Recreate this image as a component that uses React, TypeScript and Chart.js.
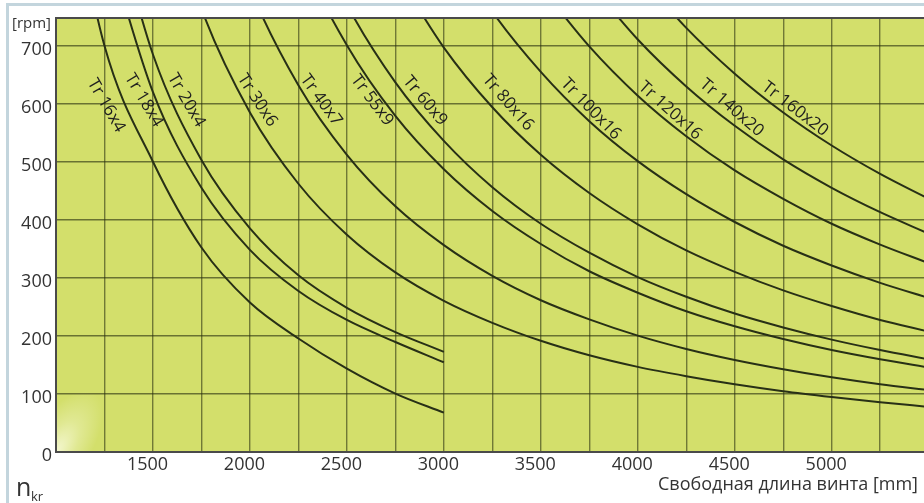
import React, { useEffect, useRef } from "react";
import { Chart, registerables } from "chart.js";

Chart.register(...registerables);

// Free screw length [mm] (x positions of the read values)
const lengths = [1000, 1250, 1500, 1750, 2000, 2250, 2500, 2750, 3000, 3250, 3500, 3750, 4000, 4250, 4500, 4750, 5000, 5250, 5500];

// Critical speed [rpm] (null = curve not drawn there)
const tr16x4 = [1100, 700, 500, 352, 257, 195, 143, 100, 67, null, null, null, null, null, null, null, null, null, null];
const tr18x4 = [null, 890, 620, 455, 348, 277, 227, 189, 154, null, null, null, null, null, null, null, null, null, null];
const tr20x4 = [null, 985, 685, 503, 385, 304, 248, 206, 172, null, null, null, null, null, null, null, null, null, null];
const tr30x6 = [null, null, 1040, 764, 585, 462, 374, 309, 260, 222, 191, 166, 146, 130, 116, 104, 94, 85, 77];
const tr40x7 = [null, null, null, 1045, 800, 632, 512, 423, 356, 303, 261, 228, 200, 177, 158, 142, 128, 116, 106];
const tr55x9 = [null, null, null, null, 1095, 865, 701, 579, 487, 415, 358, 311, 274, 242, 216, 194, 175, 159, 145];
const tr60x9 = [null, null, null, null, null, 952, 771, 637, 536, 456, 393, 343, 301, 267, 238, 214, 193, 175, 159];
const tr80x16 = [null, null, null, null, null, null, null, 829, 697, 594, 512, 446, 392, 347, 310, 278, 251, 227, 207];
const tr100x16 = [null, null, null, null, null, null, null, null, 891, 759, 655, 570, 501, 444, 396, 355, 321, 291, 265];
const tr120x16 = [null, null, null, null, null, null, null, null, null, null, 802, 699, 614, 544, 485, 436, 393, 357, 325];
const tr140x20 = [null, null, null, null, null, null, null, null, null, null, null, 809, 711, 630, 562, 504, 455, 413, 376];
const tr160x20 = [null, null, null, null, null, null, null, null, null, null, null, null, 825, 731, 652, 585, 528, 479, 436];

const seriesNames = ["Tr 16x4", "Tr 18x4", "Tr 20x4", "Tr 30x6", "Tr 40x7", "Tr 55x9", "Tr 60x9", "Tr 80x16", "Tr 100x16", "Tr 120x16", "Tr 140x20", "Tr 160x20"];
const seriesValues = [tr16x4, tr18x4, tr20x4, tr30x6, tr40x7, tr55x9, tr60x9, tr80x16, tr100x16, tr120x16, tr140x20, tr160x20];

// Curve label anchors in data units (length, rpm) and their rotation
const labelLength = [1259, 1453, 1672, 2038, 2367, 2630, 2903, 3331, 3758, 4167, 4484, 4811];
const labelRpm = [597, 606, 606, 606, 606, 606, 605, 602, 591, 588, 593, 591];
const labelAngle = [60, 59, 60, 57, 54, 53, 50, 49, 46, 42, 41, 37.5];

// Axes
const xMin = 1000;
const xMax = 5476;
const yMin = 0;
const yMax = 748;
const xGrid = [1000, 1250, 1500, 1750, 2000, 2250, 2500, 2750, 3000, 3250, 3500, 3750, 4000, 4250, 4500, 4750, 5000, 5250];
const xTickLabels = [1500, 2000, 2500, 3000, 3500, 4000, 4500, 5000];
const yTicks = [0, 100, 200, 300, 400, 500, 600, 700];

const FONT = '"Open Sans", "Noto Sans", sans-serif';

export default function App() {
  const canvasRef = useRef<HTMLCanvasElement | null>(null);

  useEffect(() => {
    const canvas = canvasRef.current;
    if (!canvas) return;

    const datasets = seriesNames.map((name, si) => ({
      label: name,
      data: lengths
        .map((x, i) => (seriesValues[si][i] == null ? null : { x, y: seriesValues[si][i] as number }))
        .filter((p) => p !== null),
      borderColor: "#283016",
      borderWidth: 2,
      pointRadius: 0,
      fill: false,
      cubicInterpolationMode: "monotone" as const,
      clip: 0,
    }));

    const decor = {
      id: "decor",
      beforeDraw(chart: any) {
        const { ctx, chartArea: a } = chart;
        ctx.save();
        ctx.fillStyle = "#d3df6b";
        ctx.fillRect(a.left, a.top, a.right - a.left, a.bottom - a.top);
        // soft glare in the lower-left corner
        ctx.beginPath();
        ctx.rect(a.left, a.bottom - 70, 70, 70);
        ctx.clip();
        ctx.translate(a.left, a.bottom);
        ctx.rotate(-Math.PI / 3.2);
        ctx.scale(1, 0.45);
        const g = ctx.createRadialGradient(0, 0, 0, 0, 0, 70);
        g.addColorStop(0, "rgba(255,255,240,0.75)");
        g.addColorStop(0.5, "rgba(255,255,240,0.3)");
        g.addColorStop(1, "rgba(255,255,240,0)");
        ctx.fillStyle = g;
        ctx.fillRect(-80, -80, 160, 160);
        ctx.restore();
      },
      afterDatasetsDraw(chart: any) {
        const { ctx, chartArea: a, scales } = chart;
        ctx.save();
        ctx.strokeStyle = "#4a4a4a";
        ctx.lineWidth = 2;
        ctx.beginPath();
        ctx.moveTo(a.left - 1, a.top);
        ctx.lineTo(a.right, a.top);
        ctx.stroke();
        ctx.font = `17px ${FONT}`;
        ctx.fillStyle = "#1f1f1f";
        ctx.textAlign = "center";
        ctx.textBaseline = "middle";
        seriesNames.forEach((name, i) => {
          const px = scales.x.getPixelForValue(labelLength[i]);
          const py = scales.y.getPixelForValue(labelRpm[i]);
          ctx.save();
          ctx.translate(px, py);
          ctx.rotate((labelAngle[i] * Math.PI) / 180);
          ctx.fillText(name, 0, 0);
          ctx.restore();
        });
        ctx.restore();
      },
    };

    const chart = new Chart(canvas, {
      type: "line",
      data: { datasets: datasets as any },
      options: {
        responsive: false,
        animation: false,
        devicePixelRatio: 1,
        layout: { padding: { top: 18, left: 0, right: 0, bottom: 0 } },
        plugins: { legend: { display: false }, tooltip: { enabled: false } },
        scales: {
          x: {
            type: "linear",
            min: xMin,
            max: xMax,
            afterBuildTicks: (s: any) => {
              s.ticks = xGrid.map((v) => ({ value: v }));
            },
            afterFit: (s: any) => {
              s.height = 51.5;
            },
            ticks: {
              autoSkip: false,
              maxRotation: 0,
              minRotation: 0,
              padding: 3,
              labelOffset: -5.5,
              color: "#333333",
              font: { family: FONT, size: 18 },
              callback: (v: any) => (xTickLabels.includes(Number(v)) ? String(v) : ""),
            },
            grid: { color: "rgba(40,46,16,0.58)", lineWidth: 1.4, drawTicks: false },
            border: { color: "#4a4a4a", width: 2 },
          },
          y: {
            type: "linear",
            min: yMin,
            max: yMax,
            afterBuildTicks: (s: any) => {
              s.ticks = yTicks.map((v) => ({ value: v }));
            },
            afterFit: (s: any) => {
              s.width = 56;
            },
            ticks: {
              autoSkip: false,
              padding: 4,
              labelOffset: 4,
              color: "#333333",
              font: { family: FONT, size: 18 },
              callback: (v: any) => String(v),
            },
            grid: { color: "rgba(40,46,16,0.62)", lineWidth: 1.6, drawTicks: false },
            border: { color: "#4a4a4a", width: 2 },
          },
        },
      },
      plugins: [decor],
    });

    return () => chart.destroy();
  }, []);

  return (
    <div
      style={{
        position: "absolute",
        left: 0,
        top: 0,
        width: 924,
        height: 503,
        background: "#ffffff",
        overflow: "hidden",
        fontFamily: FONT,
        color: "#333333",
      }}
    >
      <div
        style={{
          position: "absolute",
          left: 6,
          top: 3,
          width: 940,
          height: 520,
          borderLeft: "3px solid #c3d5dd",
          borderTop: "3px solid #c3d5dd",
        }}
      />
      <canvas ref={canvasRef} width={924} height={503} style={{ position: "absolute", left: 0, top: 0 }} />
      <div style={{ position: "absolute", left: 0, width: 51, top: 15, textAlign: "right", fontSize: 15, lineHeight: "15px", whiteSpace: "nowrap" }}>
        [rpm]
      </div>
      <div style={{ position: "absolute", left: 16, top: 474, fontSize: 25, lineHeight: "25px", whiteSpace: "nowrap" }}>n</div>
      <div style={{ position: "absolute", left: 31, top: 490, fontSize: 13, lineHeight: "13px", whiteSpace: "nowrap" }}>kr</div>
      <div style={{ position: "absolute", right: 6, top: 474, fontSize: 18, lineHeight: "18px", whiteSpace: "nowrap" }}>
        Свободная длина винта [mm]
      </div>
    </div>
  );
}
